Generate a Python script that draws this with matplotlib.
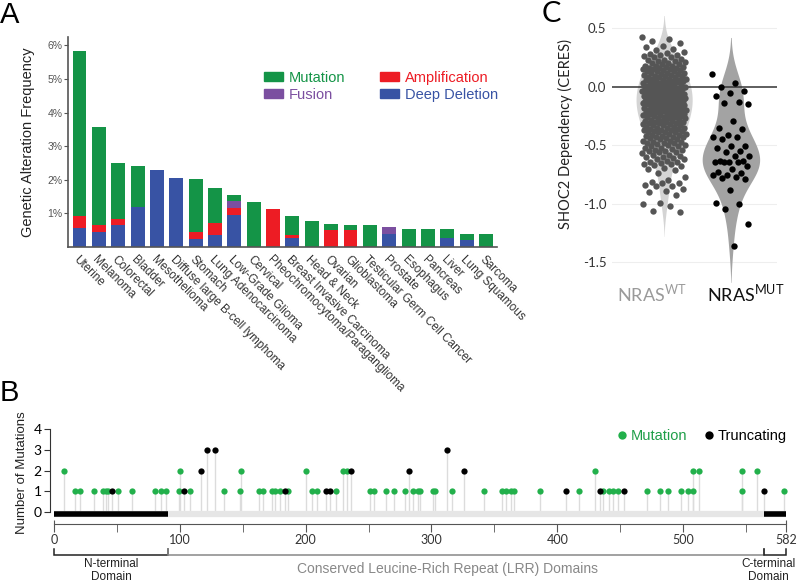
import numpy as np
import matplotlib.pyplot as plt
from matplotlib.lines import Line2D
from matplotlib.patches import Patch

plt.rcParams['font.family'] = ['Liberation Sans', 'DejaVu Sans']
plt.rcParams['mathtext.fontset'] = 'custom'
plt.rcParams['mathtext.rm'] = 'Lato'

# ---------------- Panel A: alteration frequency (%) per cancer type
cancers = ['Uterine', 'Melanoma', 'Colorectal', 'Bladder', 'Mesothelioma',
           'Diffuse large B-cell lymphoma', 'Stomach', 'Lung Adenocarcinoma',
           'Low-Grade Glioma', 'Cervical', 'Pheochromocytoma/Paraganglioma',
           'Breast Invasive Carcinoma', 'Head & Neck', 'Ovarian', 'Glioblastoma',
           'Testicular Germ Cell Cancer', 'Prostate', 'Esophagus', 'Pancreas',
           'Liver', 'Lung Squamous', 'Sarcoma']
deep_deletion = [0.57, 0.46, 0.65, 1.20, 2.28, 2.06, 0.23, 0.35, 0.96, 0, 0,
                 0.28, 0, 0, 0, 0, 0.40, 0, 0, 0.26, 0.21, 0]
amplification = [0.36, 0.20, 0.18, 0, 0, 0, 0.23, 0.35, 0.19, 0, 1.12,
                 0.08, 0, 0.51, 0.51, 0, 0, 0, 0, 0, 0, 0]
fusion = [0, 0, 0, 0, 0, 0, 0, 0, 0.21, 0, 0,
          0, 0, 0, 0, 0, 0.20, 0, 0, 0, 0, 0]
mutation = [4.91, 2.92, 1.68, 1.22, 0, 0, 1.56, 1.05, 0.19, 1.34, 0,
            0.55, 0.76, 0.17, 0.15, 0.66, 0, 0.54, 0.54, 0.27, 0.19, 0.38]

# ---------------- Panel B: SHOC2 mutations along the protein
protein_length = 582
mut_pos = [8, 17, 21, 32, 39, 41, 43, 51, 62, 80, 85, 89, 99, 100, 108, 135,
           148, 149, 163, 166, 173, 176, 180, 186, 200, 205, 209, 224, 230, 233,
           251, 254, 264, 270, 279, 285, 289, 291, 301, 303, 316, 342, 356, 359,
           363, 366, 386, 417, 430, 436, 441, 444, 448, 471, 482, 488, 498, 504,
           508, 508, 513, 547, 547, 559, 580]
mut_count = [2, 1, 1, 1, 1, 1, 1, 1, 1, 1, 1, 1, 1, 2, 1, 1,
             1, 2, 1, 1, 1, 1, 1, 1, 2, 1, 1, 1, 2, 2,
             1, 1, 1, 1, 1, 1, 1, 1, 1, 1, 1, 1, 1, 1,
             1, 1, 1, 1, 2, 1, 1, 1, 1, 1, 1, 1, 1, 1,
             1, 2, 2, 1, 2, 2, 1]
trunc_pos = [46, 103, 117, 122, 128, 184, 216, 219, 236, 282, 312, 326, 407, 434, 453, 564]
trunc_count = [1, 1, 2, 3, 3, 1, 1, 1, 2, 2, 3, 2, 1, 1, 1, 1]
domain_names = ['N-terminal\nDomain', 'Conserved Leucine-Rich Repeat (LRR) Domains', 'C-terminal\nDomain']
domain_start = [0, 91, 564]
domain_end = [91, 564, 582]

# ---------------- Panel C: SHOC2 dependency (CERES)
groups = ['NRAS$^{\\mathrm{WT}}$', 'NRAS$^{\\mathrm{MUT}}$']
nras_wt = [0.42, 0.41, 0.39, 0.37, 0.35, 0.34, 0.32, 0.31, 0.30, 0.29, 0.28, 0.27,
           0.27, 0.26, 0.25, 0.25, 0.24, 0.23, 0.23, 0.22, 0.21, 0.20,
           0.20, 0.19, 0.19, 0.18, 0.18, 0.17, 0.16, 0.16, 0.15, 0.15, 0.14, 0.13,
           0.13, 0.12, 0.12, 0.11, 0.10, 0.10, 0.09, 0.09, 0.08, 0.08, 0.07, 0.07,
           0.06, 0.06, 0.05, 0.05, 0.04, 0.04, 0.03, 0.03, 0.02, 0.02, 0.01, 0.01,
           0.00, 0.00, 0.00, -0.01,
           -0.01, -0.02, -0.02, -0.03, -0.03, -0.04, -0.04, -0.05, -0.05, -0.05,
           -0.06, -0.06, -0.07, -0.07, -0.08, -0.08, -0.09, -0.09, -0.10, -0.10,
           -0.10, -0.11, -0.11, -0.12, -0.12, -0.13, -0.13, -0.14, -0.14, -0.15,
           -0.15, -0.15, -0.16, -0.16, -0.17, -0.17, -0.18, -0.18, -0.19, -0.19,
           -0.20, -0.20, -0.20, -0.21, -0.21, -0.22, -0.22, -0.23, -0.23, -0.24,
           -0.24, -0.25, -0.25, -0.26, -0.26,
           -0.27, -0.27, -0.28, -0.29, -0.29, -0.30, -0.31, -0.31, -0.32, -0.33,
           -0.33, -0.34, -0.35, -0.35, -0.36, -0.37, -0.37, -0.38, -0.39, -0.39,
           -0.40, -0.41, -0.41, -0.42, -0.43, -0.43, -0.44, -0.45, -0.45, -0.46,
           -0.47, -0.48,
           -0.49, -0.50, -0.51, -0.52, -0.53, -0.54, -0.55, -0.56, -0.57, -0.58,
           -0.59, -0.60, -0.61, -0.62, -0.63, -0.64, -0.64, -0.65, -0.66, -0.67,
           -0.68, -0.69, -0.70, -0.71,
           -0.74, -0.77, -0.80, -0.81, -0.82, -0.82, -0.84, -0.85, -0.85, -0.87,
           -0.89, -0.90, -0.92, -0.99, -1.00, -1.02, -1.06, -1.07,
           0.18, 0.14, 0.11, 0.07, 0.04, 0.01, -0.02, -0.04, -0.06, -0.08,
           -0.10, -0.12, -0.14, -0.16, -0.18, -0.20, -0.22, -0.24, -0.26, -0.28,
           -0.30, -0.32, -0.34, -0.36, -0.38, -0.40, -0.44, -0.48, -0.52, -0.56,
           0.16, 0.12, 0.09, 0.05, 0.02, -0.03, -0.07, -0.11, -0.15, -0.19,
           -0.23, -0.27, -0.31, -0.35, -0.39, -0.43, -0.47, -0.51, -0.55, -0.60,
           0.22, 0.17, 0.13, 0.08, 0.03, -0.01, -0.05, -0.09, -0.13, -0.17,
           -0.21, -0.25, -0.29, -0.33, -0.37, -0.42, -0.46, -0.50, -0.54, -0.58,
           -0.62, -0.66, 0.15, 0.06, -0.03, -0.12, -0.21, -0.30, -0.39, -0.48]
nras_mut = [0.11, 0.03, 0.00, -0.04, -0.05, -0.08, -0.13, -0.14, -0.15, -0.29,
            -0.35, -0.36, -0.41, -0.43, -0.43, -0.45, -0.51, -0.51, -0.52, -0.55,
            -0.56, -0.59, -0.59, -0.63, -0.63, -0.64, -0.64, -0.64, -0.64, -0.68,
            -0.70, -0.73, -0.74, -0.75, -0.75, -0.77, -0.78, -0.79, -0.88, -0.99,
            -1.00, -1.04, -1.17, -1.36]

W, H = 800, 586


def fig_xy(x, y):
    return x / W, 1 - y / H


fig = plt.figure(figsize=(8, 5.86), dpi=100)

# ======================= A
axA = fig.add_axes([68 / W, 1 - 247 / H, 429 / W, 210 / H])
x = np.arange(len(cancers))
bottom = np.zeros(len(cancers))
colors = {'Deep Deletion': '#3853a4', 'Amplification': '#ed1c24',
          'Fusion': '#7b4fa0', 'Mutation': '#149447'}
for name, vals in [('Deep Deletion', deep_deletion), ('Amplification', amplification),
                   ('Fusion', fusion), ('Mutation', mutation)]:
    vals = np.array(vals)
    axA.bar(x, vals, 0.72, bottom=bottom, color=colors[name], lw=0)
    bottom += vals
axA.set_xlim(-0.594, 21.57)
axA.set_ylim(0, 6.25)
for s in ['top', 'right']:
    axA.spines[s].set_visible(False)
for s in ['left', 'bottom']:
    axA.spines[s].set_color('#555555')
    axA.spines[s].set_linewidth(1.2)
axA.set_yticks(range(1, 7))
axA.set_yticklabels([f'{i}%' for i in range(1, 7)], fontsize=7.5, color='#555555')
axA.tick_params(axis='y', length=3, color='#555555', pad=1)
axA.set_xticks(x)
axA.set_xticklabels(cancers, rotation=-45, ha='left', rotation_mode='anchor',
                    fontsize=8.5, color='#333333')
axA.tick_params(axis='x', length=0, pad=5)
fig.text(*fig_xy(28, 142), 'Genetic Alteration Frequency', rotation=90,
         ha='center', va='center', fontsize=10.5, color='#222222')

handles = [Patch(color=colors[n]) for n in ['Mutation', 'Fusion', 'Amplification', 'Deep Deletion']]
axA.legend(handles, ['Mutation', 'Fusion', 'Amplification', 'Deep Deletion'], ncol=2,
           loc='upper left', bbox_to_anchor=((264 - 68) / 429, 1 - (71 - 37) / 210),
           frameon=False, fontsize=10.5, handlelength=1.3, handleheight=0.55,
           handletextpad=0.4, columnspacing=2.4, labelspacing=0.2,
           borderpad=0, borderaxespad=0,
           labelcolor=[colors[n] for n in ['Mutation', 'Fusion', 'Amplification', 'Deep Deletion']])

# ======================= B
axB = fig.add_axes([50 / W, 0, 740 / W, 166 / H])
px_per_unit = 20.8
axB.set_ylim((512.3 - 586) / px_per_unit, (512.3 - 420) / px_per_unit)
axB.set_xlim(-3.18, 585)
stem_color = '#dcdcdc'
axB.vlines(mut_pos, 0, mut_count, color=stem_color, lw=1, zorder=1)
axB.vlines(trunc_pos, 0, trunc_count, color=stem_color, lw=1, zorder=1)
axB.hlines(-0.08, 0, protein_length, color='#e6e6e6', lw=4.5, zorder=2)
for s, e in [(domain_start[0], domain_end[0]), (domain_start[2], domain_end[2])]:
    axB.hlines(-0.08, s, e, color='black', lw=4, zorder=3)
green = '#22b04b'
axB.plot(mut_pos, mut_count, 'o', color=green, ms=4.5, mew=0, zorder=4)
axB.plot(trunc_pos, trunc_count, 'o', color='black', ms=4.5, mew=0, zorder=5)

for s in ['top', 'right']:
    axB.spines[s].set_visible(False)
axB.spines['left'].set_bounds(0, 4)
axB.spines['left'].set_color('#333333')
axB.set_yticks(range(0, 5))
axB.tick_params(axis='y', length=4, color='#333333', labelsize=10, pad=2)
for t in axB.get_yticklabels():
    t.set_fontfamily('Lato')
y_axis_line = (512.3 - 524) / px_per_unit
axB.spines['bottom'].set_position(('data', y_axis_line))
axB.spines['bottom'].set_bounds(0, protein_length)
axB.spines['bottom'].set_color('#555555')
axB.set_xticks([0, 100, 200, 300, 400, 500, protein_length])
axB.set_xticks(list(range(50, 600, 100)), minor=True)
axB.tick_params(axis='x', which='both', length=6, color='#555555', labelsize=9,
                labelcolor='#333333', pad=1)
for t in axB.get_xticklabels():
    t.set_fontfamily('Lato')
# end ticks reach above the axis line too
axB.vlines([0, protein_length], y_axis_line, y_axis_line + 4 / px_per_unit,
           color='#555555', lw=0.8, clip_on=False)

fig.text(*fig_xy(22, 473), 'Number of Mutations', rotation=90, ha='center',
         va='center', fontsize=9.5, color='#222222')

y_br = (512.3 - 555) / px_per_unit
y_up = (512.3 - 549) / px_per_unit
for i, (name, s, e) in enumerate(zip(domain_names, domain_start, domain_end)):
    col = '#888888' if i == 1 else '#222222'
    axB.plot([s, s, e, e], [y_up, y_br, y_br, y_up], color=col, lw=1.1,
             clip_on=False, solid_joinstyle='miter')
    if i == 1:
        axB.text(313, (512.3 - 569) / px_per_unit, name, ha='center', va='center',
                 fontsize=10, color='#888888')
    else:
        xc = (s + e) / 2 if i == 0 else e - 14
        axB.text(xc, (512.3 - 558) / px_per_unit, name, ha='center', va='top',
                 fontsize=8.5, color='#222222', linespacing=1.15)

legB = [Line2D([], [], marker='o', ls='', color=green, ms=6, mew=0),
        Line2D([], [], marker='o', ls='', color='black', ms=6, mew=0)]
axB.legend(legB, ['Mutation', 'Truncating'], ncol=2, loc='upper right',
           bbox_to_anchor=((787 - 50) / 740, (586 - 429) / 166), frameon=False,
           fontsize=10.5, handlelength=0.6, handletextpad=0.3, columnspacing=1.2,
           borderpad=0, borderaxespad=0, labelcolor=['#1f9e48', 'black'])

# ======================= C
c_bottom, c_top = 285.9, 16.4
axC = fig.add_axes([612 / W, 1 - c_bottom / H, 165 / W, (c_bottom - c_top) / H])
axC.set_xlim(-0.78, 1.69)
axC.set_ylim(-1.7, 0.6)
for s in axC.spines.values():
    s.set_visible(False)
for v in [0.5, -0.5, -1.0, -1.5]:
    axC.axhline(v, color='#eeeeee', lw=0.8, zorder=0)
axC.axhline(0, color='#333333', lw=1.1, zorder=3)

violin_colors = ['#d4d4d4', '#a3a3a3']
point_colors = ['#555555', '#000000']
half_widths = [0.42, 0.43]
jitters = [0.33, 0.28]
for i, vals in enumerate([nras_wt, nras_mut]):
    vals = np.array(vals)
    bw = vals.std(ddof=1) * len(vals) ** (-1 / 5)
    grid = np.linspace(vals.min() - 2 * bw, vals.max() + 2 * bw, 300)
    dens = np.exp(-0.5 * ((grid[:, None] - vals[None, :]) / bw) ** 2).sum(axis=1)
    dens = dens / dens.max() * half_widths[i]
    axC.fill_betweenx(grid, i - dens, i + dens, color=violin_colors[i], lw=0, zorder=1)
    order = np.argsort(vals)[::-1]
    offs = ((np.arange(len(vals)) * 0.6180339887) % 1 - 0.5) * 2 * jitters[i]
    axC.scatter(i + offs, vals[order], s=21, color=point_colors[i], lw=0, zorder=4)

axC.set_yticks([0.5, 0.0, -0.5, -1.0, -1.5])
axC.set_yticklabels(['0.5', '0.0', '-0.5', '-1.0', '-1.5'])
axC.tick_params(axis='y', length=0, pad=4, labelsize=9.5, labelcolor='#333333')
for t in axC.get_yticklabels():
    t.set_fontfamily('Lato')
axC.set_xticks([])
tr = axC.get_xaxis_transform()
for xpos, label, col in zip([-0.18, 1.22], groups, ['#9a9a9a', '#111111']):
    axC.text(xpos, -(293 - c_bottom) / (c_bottom - c_top), label, transform=tr,
             ha='center', va='center', fontsize=13, color=col, family='Lato')
fig.text(*fig_xy(565, 134), 'SHOC2 Dependency (CERES)', rotation=90, ha='center',
         va='center', fontsize=10.5, color='#222222', family='Lato')

# panel letters
fig.text(*fig_xy(0, 1), 'A', fontsize=21, va='top', ha='left')
fig.text(*fig_xy(0, 379), 'B', fontsize=21, va='top', ha='left')
fig.text(*fig_xy(542, 1), 'C', fontsize=21, va='top', ha='left', family='Lato')

fig.savefig('out.png', dpi=100)
